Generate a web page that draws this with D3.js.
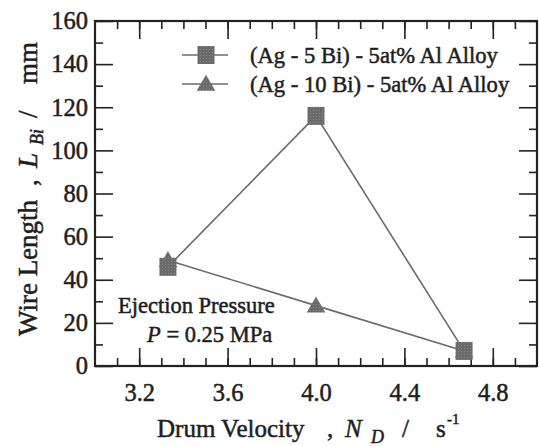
<!DOCTYPE html>
<html>
<head>
<meta charset="utf-8">
<script src="https://cdn.jsdelivr.net/npm/d3@7"></script>
<style>
  body { margin: 0; background: #fff; }
  svg text { font-family: "Liberation Serif", "Times New Roman", Times, serif; fill: #1e1e1e; stroke: #1e1e1e; stroke-width: 0.5px; }
  .tick text { font-size: 24.5px; }
</style>
</head>
<body>
<svg id="chart" width="539" height="446"></svg>
<script>
// data
const drumVelocity = [3.33, 4.0, 4.67];
const length5Bi = [46, 116, 7];
const length10Bi = [49, 28, 7];
const seriesNames = ['(Ag - 5 Bi) - 5at% Al Alloy', '(Ag - 10 Bi) - 5at% Al Alloy'];
const xMajor = [3.2, 3.6, 4.0, 4.4, 4.8];
const xMinor = d3.range(3.1, 5.0, 0.1);
const yMajor = [0, 20, 40, 60, 80, 100, 120, 140, 160];
const yMinor = d3.range(10, 160, 20);

const svg = d3.select('svg#chart');
const plotL = 95, plotR = 537, plotT = 21, plotB = 366;
const ink = '#222';
const lineGray = '#6b6b6b';

const x = d3.scaleLinear().domain([3.0, 5.0]).range([plotL, plotR]);
const y = d3.scaleLinear().domain([0, 160]).range([plotB, plotT]);

// dotted grey fill for markers
const defs = svg.append('defs');
const pat = defs.append('pattern')
  .attr('id', 'dots').attr('width', 3).attr('height', 3)
  .attr('patternUnits', 'userSpaceOnUse');
pat.append('rect').attr('width', 3).attr('height', 3).attr('fill', '#6a6a6a');
pat.append('rect').attr('width', 1).attr('height', 1).attr('fill', '#8c8c8c');

const styleAxis = (g) => {
  g.select('.domain').remove();
  g.attr('font-family', null).attr('font-size', null);
  g.selectAll('.tick line').attr('stroke', ink).attr('stroke-width', 1.6);
};

// minor ticks
svg.append('g').attr('transform', `translate(0,${plotB})`)
  .call(d3.axisBottom(x).tickValues(xMinor).tickSize(-8).tickFormat(''))
  .call(styleAxis);
svg.append('g').attr('transform', `translate(0,${plotT})`)
  .call(d3.axisTop(x).tickValues(xMinor).tickSize(-8).tickFormat(''))
  .call(styleAxis);
svg.append('g').attr('transform', `translate(${plotL},0)`)
  .call(d3.axisLeft(y).tickValues(yMinor).tickSize(-8).tickFormat(''))
  .call(styleAxis);
svg.append('g').attr('transform', `translate(${plotR},0)`)
  .call(d3.axisRight(y).tickValues(yMinor).tickSize(-8).tickFormat(''))
  .call(styleAxis);

// major ticks
svg.append('g').attr('transform', `translate(0,${plotB})`)
  .call(d3.axisBottom(x).tickValues(xMajor).tickSize(-18).tickPadding(18).tickFormat(d3.format('.1f')))
  .call(styleAxis);
svg.append('g').attr('transform', `translate(0,${plotT})`)
  .call(d3.axisTop(x).tickValues(xMajor).tickSize(-18).tickFormat(''))
  .call(styleAxis);
svg.append('g').attr('transform', `translate(${plotL},0)`)
  .call(d3.axisLeft(y).tickValues(yMajor).tickSize(-18).tickPadding(7))
  .call(styleAxis);
svg.append('g').attr('transform', `translate(${plotR},0)`)
  .call(d3.axisRight(y).tickValues(yMajor).tickSize(-18).tickFormat(''))
  .call(styleAxis);

// frame
svg.append('rect')
  .attr('x', plotL).attr('y', plotT)
  .attr('width', plotR - plotL).attr('height', plotB - plotT)
  .attr('fill', 'none').attr('stroke', ink).attr('stroke-width', 2.2);

// lines
const line = d3.line().x(d => x(d[0])).y(d => y(d[1]));
const pts5 = drumVelocity.map((v, i) => [v, length5Bi[i]]);
const pts10 = drumVelocity.map((v, i) => [v, length10Bi[i]]);

[pts10, pts5].forEach(p => {
  svg.append('path').datum(p)
    .attr('d', line)
    .attr('fill', 'none')
    .attr('stroke', lineGray)
    .attr('stroke-width', 1.6);
});

const tri = d3.symbol().type(d3.symbolTriangle).size(150);
const drawTri = (sel) => sel.append('path').attr('d', tri).attr('fill', 'url(#dots)');
const drawSq = (sel) => sel.append('rect')
  .attr('x', -8.5).attr('y', -9).attr('width', 17).attr('height', 18)
  .attr('fill', 'url(#dots)');

svg.append('g').selectAll('g').data(pts10).join('g')
  .attr('transform', d => `translate(${x(d[0])},${y(d[1]) + 1.5})`)
  .call(drawTri);
svg.append('g').selectAll('g').data(pts5).join('g')
  .attr('transform', d => `translate(${x(d[0])},${y(d[1])})`)
  .call(drawSq);

// legend
const legend = svg.append('g');
const legendRows = [
  { name: seriesNames[0], yy: 55, mark: drawSq, off: 0 },
  { name: seriesNames[1], yy: 84, mark: drawTri, off: 1.5 }
];
legendRows.forEach(r => {
  legend.append('line')
    .attr('x1', 182).attr('x2', 228).attr('y1', r.yy).attr('y2', r.yy)
    .attr('stroke', lineGray).attr('stroke-width', 1.6);
  legend.append('g').attr('transform', `translate(206,${r.yy + r.off})`).call(r.mark);
  legend.append('text')
    .attr('x', 250).attr('y', r.yy + 8)
    .style('font-size', '22.6px')
    .text(r.name);
});

// annotation
svg.append('text').attr('x', 118).attr('y', 313)
  .style('font-size', '22.5px').text('Ejection Pressure');
const ann = svg.append('text').attr('x', 147).attr('y', 342).style('font-size', '22.5px');
ann.append('tspan').style('font-style', 'italic').text('P');
ann.append('tspan').text(' = 0.25 MPa');

// x title
const xt = svg.append('g');
const xs = '25px';
xt.append('text').attr('x', 157).attr('y', 437).style('font-size', xs).text('Drum Velocity');
xt.append('text').attr('x', 327).attr('y', 437).style('font-size', xs).text(',');
xt.append('text').attr('x', 345).attr('y', 437).style('font-size', xs).style('font-style', 'italic').text('N');
xt.append('text').attr('x', 371).attr('y', 443).style('font-style', 'italic').style('font-size', '18px').text('D');
xt.append('text').attr('x', 402).attr('y', 437).style('font-size', xs).text('/');
xt.append('text').attr('x', 436).attr('y', 437).style('font-size', xs).text('s');
xt.append('text').attr('x', 447).attr('y', 424).style('font-size', '15px').text('-1');

// y title
const yt = svg.append('g').attr('transform', 'translate(37,0) rotate(-90)');
const ys = '27px';
yt.append('text').attr('x', -336).attr('y', 0).style('font-size', ys).text('Wire Length');
yt.append('text').attr('x', -186).attr('y', 0).style('font-size', ys).text(',');
yt.append('text').attr('x', -168).attr('y', 0).style('font-size', ys).style('font-style', 'italic').text('L');
yt.append('text').attr('x', -145).attr('y', 6).style('font-style', 'italic').style('font-size', '18px').text('Bi');
yt.append('text').attr('x', -118).attr('y', 0).style('font-size', ys).text('/');
yt.append('text').attr('x', -84).attr('y', 0).style('font-size', ys).text('mm');
</script>
</body>
</html>
